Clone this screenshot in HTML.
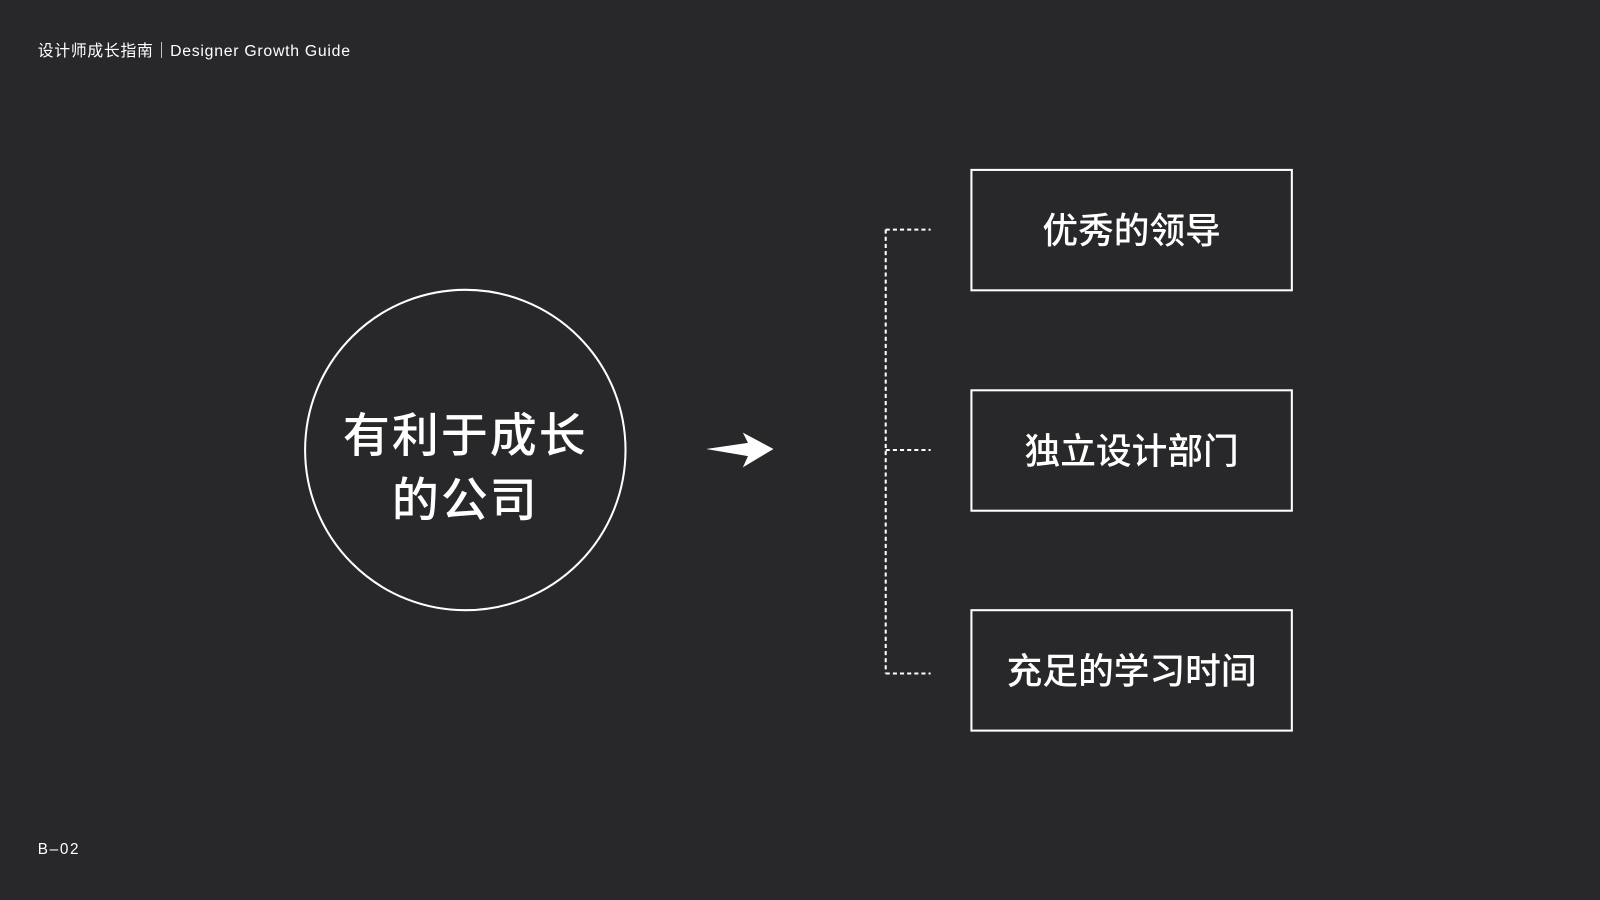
<!DOCTYPE html>
<html><head><meta charset="utf-8"><style>
html,body{margin:0;padding:0;background:#28282a;}
svg{display:block;}
text{font-family:"Liberation Sans","Noto Sans CJK SC",sans-serif;fill:#fff;}
</style></head><body>
<svg width="1600" height="900" viewBox="0 0 1568 882" preserveAspectRatio="none">
<rect width="1568" height="882" fill="#28282a"/>
<text x="37" y="55" font-size="15.5" textLength="306" lengthAdjust="spacing">设计师成长指南｜Designer Growth Guide</text>
<text x="37" y="837" font-size="15" textLength="40" lengthAdjust="spacing">B–02</text>
<circle cx="456" cy="441" r="157" fill="none" stroke="#fff" stroke-width="2"/>
<text x="456" y="443" font-size="46" font-weight="500" text-anchor="middle" letter-spacing="2">有利于成长</text>
<text x="456" y="506" font-size="46" font-weight="500" text-anchor="middle" letter-spacing="2">的公司</text>
<path d="M692,440 L733,434 L728,424 L758,440 L728,458 L733,447 Z" fill="#fff"/>
<g stroke="#fff" stroke-width="2" stroke-dasharray="4,3" fill="none">
<line x1="868" y1="225" x2="868" y2="660"/>
<line x1="868" y1="225" x2="912" y2="225"/>
<line x1="868" y1="441" x2="912" y2="441"/>
<line x1="868" y1="660" x2="912" y2="660"/>
</g>
<g fill="none" stroke="#fff" stroke-width="2">
<rect x="952" y="166.5" width="314" height="118"/>
<rect x="952" y="382.5" width="314" height="118"/>
<rect x="952" y="598" width="314" height="118"/>
</g>
<g font-size="35" font-weight="500" text-anchor="middle">
<text x="1109" y="238">优秀的领导</text>
<text x="1109" y="454">独立设计部门</text>
<text x="1109" y="670">充足的学习时间</text>
</g>
</svg>
</body></html>
